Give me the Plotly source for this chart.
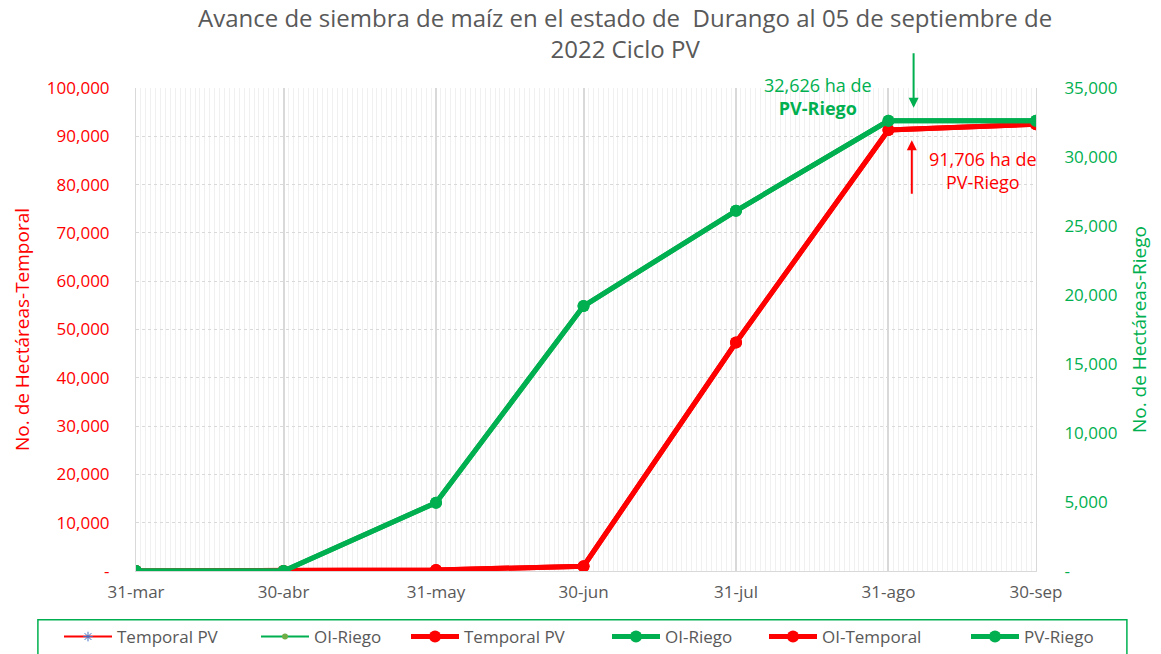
import plotly.graph_objects as go

fechas = ["2022-03-31", "2022-04-30", "2022-05-31", "2022-06-30", "2022-07-31", "2022-08-31", "2022-09-30"]
etiquetas_x = ["31-mar", "30-abr", "31-may", "30-jun", "31-jul", "31-ago", "30-sep"]
temporal_pv = [0, 0, 200, 1000, 47300, 91300, 92500]
riego_pv = [0, 0, 4950, 19200, 26100, 32626, 32626]

RED = "#FF0000"
GREEN = "#00B050"
FONT = "Open Sans"

series = [
    # name, data, axis, color, width, marker
    ("Temporal PV", temporal_pv, "y", RED, 2, dict(symbol="asterisk-open", color="#4472C4", size=8)),
    ("OI-Riego", riego_pv, "y2", GREEN, 2, dict(symbol="circle", color="#70AD47", size=6)),
    ("Temporal PV", temporal_pv, "y", RED, 5, dict(color=RED, size=12)),
    ("OI-Riego", riego_pv, "y2", GREEN, 5, dict(color=GREEN, size=12)),
    ("OI-Temporal", temporal_pv, "y", RED, 5, dict(color=RED, size=12)),
    ("PV-Riego", riego_pv, "y2", GREEN, 5, dict(color=GREEN, size=12)),
]
legend_ids = ["legend", "legend2", "legend3", "legend4", "legend5", "legend6"]
legend_x_px = [65, 262, 412, 613, 770, 972]

fig = go.Figure()
for (name, data, ax, col, w, mk), lid in zip(series, legend_ids):
    fig.add_trace(go.Scatter(x=fechas, y=data, name=name, mode="lines+markers",
                             line=dict(color=col, width=w), marker=mk, yaxis=ax, legend=lid))

left_vals = list(range(0, 100001, 10000))
left_text = ["-"] + [f"{v:,}" for v in left_vals[1:]]
right_vals = list(range(0, 35001, 5000))
right_text = ["-"] + [f"{v:,}" for v in right_vals[1:]]

W, H = 1161, 654
fig.update_layout(
    width=W, height=H,
    margin=dict(l=136, r=125, t=88, b=83, autoexpand=False),
    paper_bgcolor="white", plot_bgcolor="white",
    font=dict(family=FONT, color="#595959"),
    xaxis=dict(type="date", range=[fechas[0], fechas[-1]], tickvals=fechas, ticktext=etiquetas_x,
               showgrid=True, gridcolor="#D9D9D9", gridwidth=1.5,
               minor=dict(dtick=86400000, showgrid=True, gridcolor="#F0F0F0", gridwidth=1),
               tickfont=dict(size=17, color="#595959"), showline=True, linecolor="#D9D9D9", zeroline=False,
               ticks="", automargin=False, ticklabelstandoff=6),
    yaxis=dict(range=[0, 100000], tickvals=left_vals, ticktext=left_text,
               tickfont=dict(size=17, color=RED), showgrid=True, gridcolor="#D9D9D9", griddash="dot",
               zeroline=False, showline=True, linecolor="#D9D9D9", automargin=False, ticklabelstandoff=22,
               title=dict(text="No. de Hectáreas-Temporal", font=dict(size=19, color=RED), standoff=12)),
    yaxis2=dict(range=[0, 35000], tickvals=right_vals, ticktext=right_text, overlaying="y", side="right",
                tickfont=dict(size=17, color=GREEN), showgrid=False, zeroline=False,
                showline=True, linecolor="#D9D9D9", automargin=False, ticklabelstandoff=24,
                title=dict(text="No. de Hectáreas-Riego", font=dict(size=19, color=GREEN), standoff=16)),
    showlegend=True,
)
for lid, px in zip(legend_ids, legend_x_px):
    fig.update_layout({lid: dict(orientation="h", xref="container", x=(px - 6) / W, xanchor="left",
                                 yref="container", y=(H - 637) / H, yanchor="middle",
                                 borderwidth=0, font=dict(size=17, color="#595959"),
                                 itemwidth=48, bgcolor="rgba(0,0,0,0)")})

# legend frame
fig.add_shape(type="rect", xref="paper", yref="paper", x0=-0.109, x1=1.101, y0=-0.25, y1=-0.101,
              line=dict(color=GREEN, width=1.5), fillcolor="rgba(0,0,0,0)")

# title
fig.add_annotation(x=0.543, xref="paper", y=1.113, yref="paper", xanchor="center", yanchor="middle",
                   text="Avance de siembra de maíz en el estado de  Durango al 05 de septiembre de<br>2022 Ciclo PV",
                   showarrow=False, font=dict(size=24, color="#595959", family=FONT), align="center")

fig.add_annotation(x=(818 - 136) / 900, xref="paper", y=(571 - 96) / 483, yref="paper",
                   xanchor="center", yanchor="middle", text="32,626 ha de<br><b>PV-Riego</b>",
                   showarrow=False, font=dict(size=18, color=GREEN, family=FONT), align="center")
fig.add_annotation(x=0.864, xref="paper", y=0.959, yref="paper", ax=0, ay=-56,
                   showarrow=True, arrowhead=2, arrowsize=1, arrowwidth=2, arrowcolor=GREEN, text="")
fig.add_annotation(x=0.862, xref="paper", y=0.892, yref="paper", ax=0, ay=55,
                   showarrow=True, arrowhead=2, arrowsize=1, arrowwidth=2, arrowcolor=RED, text="")
fig.add_annotation(x=(983 - 136) / 900, xref="paper", y=(571 - 170) / 483, yref="paper",
                   xanchor="center", yanchor="middle", text="91,706 ha de<br>PV-Riego",
                   showarrow=False, font=dict(size=18, color=RED, family=FONT), align="center")

fig.write_html("out.html", config={"displayModeBar": False},
               post_script="document.body.style.margin='0';document.body.style.overflow='hidden';")
